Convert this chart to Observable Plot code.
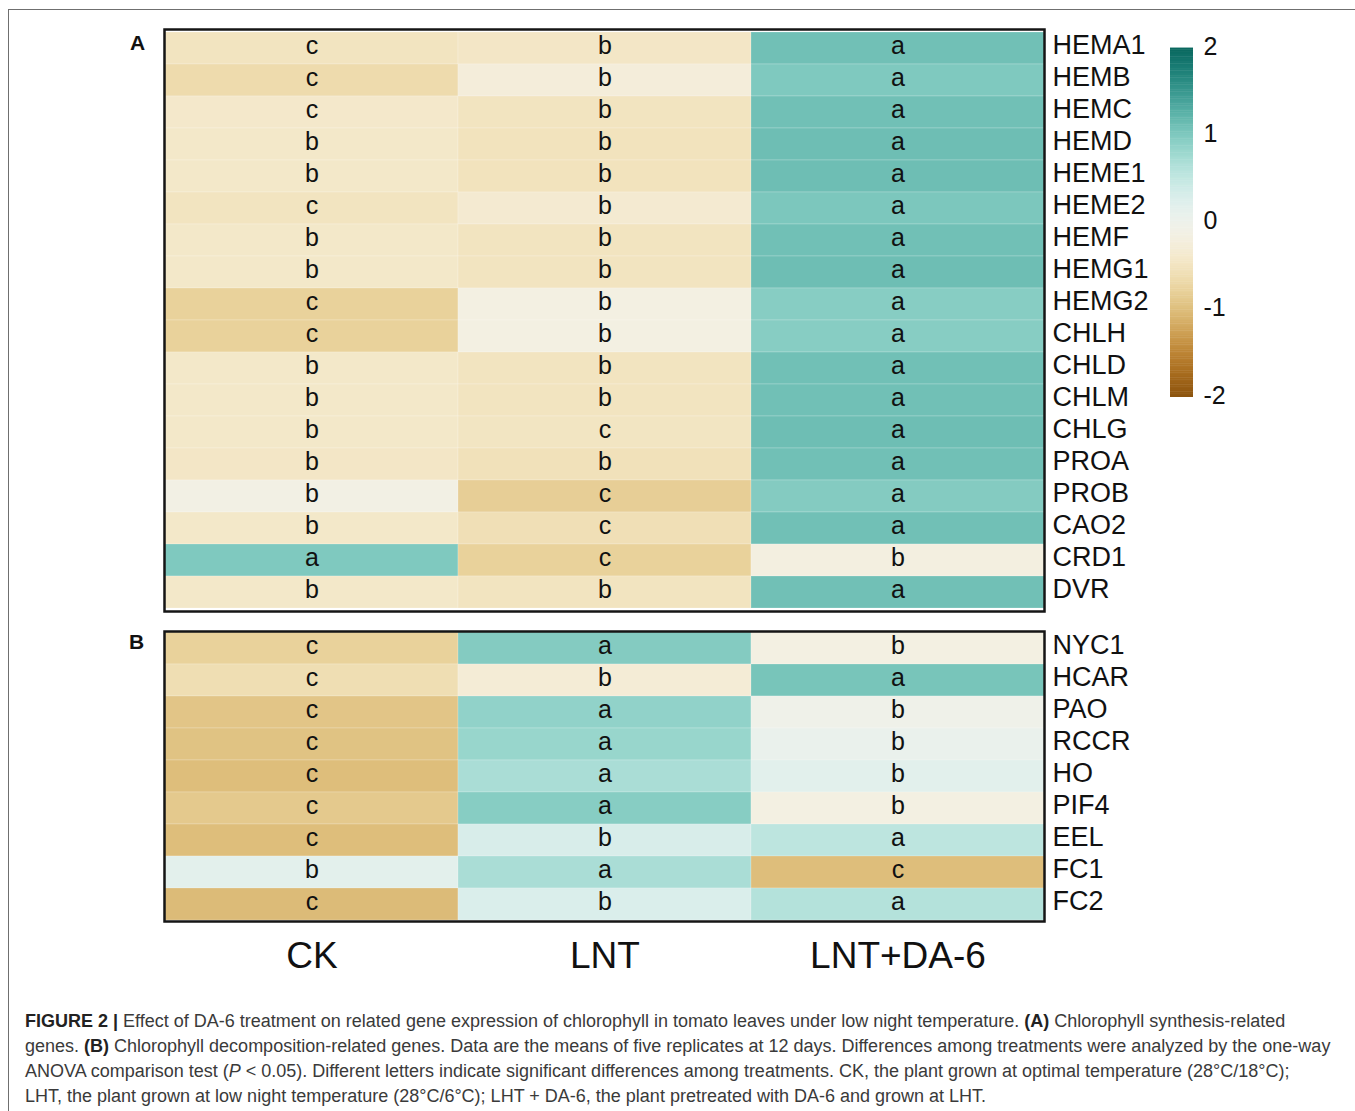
<!DOCTYPE html>
<html><head><meta charset="utf-8">
<script src="https://cdn.jsdelivr.net/npm/d3@7"></script>
<script src="https://cdn.jsdelivr.net/npm/@observablehq/plot@0.6"></script>
<style>
body{margin:0;background:#fff;width:1355px;height:1111px;position:relative;overflow:hidden;font-family:"Liberation Sans",Arial,sans-serif;}
#frame{position:absolute;left:8px;top:9px;width:1400px;height:1200px;border-top:1.5px solid #6f6f6f;border-left:1.5px solid #6f6f6f;}
.abs{position:absolute;}
.panel{font-weight:bold;font-size:21px;color:#111;}
#caption{left:25px;top:1009px;font-size:18px;line-height:25px;color:#3a3a3a;white-space:nowrap;}
#caption b{color:#222;}
</style></head>
<body>
<div id="frame"></div>
<div class="abs panel" style="left:130px;top:31px;">A</div>
<div class="abs panel" style="left:129px;top:630px;">B</div>
<div id="plotA" class="abs" style="left:162px;top:27px;"></div>
<div id="plotB" class="abs" style="left:162px;top:629px;"></div>
<div id="bar" class="abs" style="left:1160px;top:38px;"></div>
<div id="caption" class="abs"><b>FIGURE 2 |</b> Effect of DA-6 treatment on related gene expression of chlorophyll in tomato leaves under low night temperature. <b>(A)</b> Chlorophyll synthesis-related<br>genes. <b>(B)</b> Chlorophyll decomposition-related genes. Data are the means of five replicates at 12 days. Differences among treatments were analyzed by the one-way<br>ANOVA comparison test (<i>P</i> &lt; 0.05). Different letters indicate significant differences among treatments. CK, the plant grown at optimal temperature (28°C/18°C);<br>LHT, the plant grown at low night temperature (28°C/6°C); LHT + DA-6, the plant pretreated with DA-6 and grown at LHT.</div>
<script>
const treatments = ["CK", "LNT", "LNT+DA-6"];

const genesA = ["HEMA1","HEMB","HEMC","HEMD","HEME1","HEME2","HEMF","HEMG1","HEMG2","CHLH","CHLD","CHLM","CHLG","PROA","PROB","CAO2","CRD1","DVR"];
const valuesA = [
  [-0.50, -0.45, 1.10],
  [-0.65, -0.25, 1.00],
  [-0.40, -0.50, 1.10],
  [-0.42, -0.52, 1.12],
  [-0.42, -0.52, 1.12],
  [-0.50, -0.35, 1.02],
  [-0.42, -0.50, 1.10],
  [-0.42, -0.50, 1.12],
  [-0.78, -0.15, 0.95],
  [-0.78, -0.15, 0.95],
  [-0.42, -0.50, 1.10],
  [-0.42, -0.50, 1.10],
  [-0.42, -0.48, 1.12],
  [-0.45, -0.55, 1.10],
  [-0.12, -0.82, 0.97],
  [-0.42, -0.58, 1.10],
  [ 1.00, -0.78, -0.18],
  [-0.42, -0.50, 1.10]
];
const lettersA = [
  ["c","b","a"],["c","b","a"],["c","b","a"],["b","b","a"],["b","b","a"],["c","b","a"],
  ["b","b","a"],["b","b","a"],["c","b","a"],["c","b","a"],["b","b","a"],["b","b","a"],
  ["b","c","a"],["b","b","a"],["b","c","a"],["b","c","a"],["a","c","b"],["b","b","a"]
];

const genesB = ["NYC1","HCAR","PAO","RCCR","HO","PIF4","EEL","FC1","FC2"];
const valuesB = [
  [-0.78, 0.97, -0.15],
  [-0.60, -0.30, 1.05],
  [-0.92, 0.88, -0.03],
  [-0.95, 0.83, 0.06],
  [-1.00, 0.70, 0.18],
  [-0.88, 0.95, -0.15],
  [-1.00, 0.30, 0.55],
  [ 0.17, 0.70, -1.00],
  [-1.02, 0.28, 0.62]
];
const lettersB = [
  ["c","a","b"],["c","b","a"],["c","a","b"],["c","a","b"],["c","a","b"],
  ["c","a","b"],["c","b","a"],["b","a","c"],["c","b","a"]
];

const legendTicks = [-2, -1, 0, 1, 2];

const FONT = '"Liberation Sans", Arial, sans-serif';
const colorOpts = {type: "linear", scheme: "BrBG", domain: [-2.5, 2.5]};

function tidy(genes, values, letters) {
  return genes.flatMap((g, i) => treatments.map((t, j) => ({gene: g, treatment: t, value: values[i][j], letter: letters[i][j]})));
}
const dataA = tidy(genesA, valuesA, lettersA);
const dataB = tidy(genesB, valuesB, lettersB);

function heat(data, genes, h, withX) {
  const marks = [
    Plot.cell(data, {x: "treatment", y: "gene", fill: "value", inset: 0, stroke: "#ffffff", strokeOpacity: 0.2, strokeWidth: 1}),
    Plot.text(data, {x: "treatment", y: "gene", text: "letter", fontSize: 25, fill: "#111", dy: -3}),
    Plot.axisY({anchor: "right", tickSize: 0, tickPadding: 8, fontSize: 27, fill: "#111", dy: -3}),
    Plot.frame({stroke: "#151515", strokeWidth: 2.5})
  ];
  if (withX) marks.push(Plot.axisX({anchor: "bottom", tickSize: 0, tickPadding: 20, fontSize: 37, fill: "#111"}));
  return Plot.plot({
    width: 1012,
    height: h + 2 + (withX ? 70 : 2),
    marginLeft: 2, marginTop: 2, marginBottom: withX ? 70 : 2, marginRight: 130,
    x: withX ? {domain: treatments, padding: 0, label: null} : {domain: treatments, padding: 0, label: null, axis: null},
    y: {domain: genes, padding: 0, label: null},
    color: colorOpts,
    style: {fontFamily: FONT, background: "transparent", overflow: "visible"},
    marks
  });
}

document.getElementById("plotA").appendChild(heat(dataA, genesA, 582, false));
document.getElementById("plotB").appendChild(heat(dataB, genesB, 290, true));

const step = 0.02;
const ramp = d3.range(-2, 2, step);
document.getElementById("bar").appendChild(Plot.plot({
  width: 90, height: 369,
  marginLeft: 10, marginRight: 57, marginTop: 10, marginBottom: 10,
  x: {domain: [0, 1], axis: null},
  y: {domain: [-2, 2], label: null},
  color: colorOpts,
  style: {fontFamily: FONT, background: "transparent", overflow: "visible"},
  marks: [
    Plot.rect(ramp, {x1: 0, x2: 1, y1: d => d, y2: d => d + step + 0.005, fill: d => d + step / 2}),
    Plot.axisY({anchor: "right", ticks: legendTicks, tickFormat: d => String(d), tickSize: 0, tickPadding: 10, fontSize: 25, fill: "#111", dy: -2})
  ]
}));
</script>
</body></html>
